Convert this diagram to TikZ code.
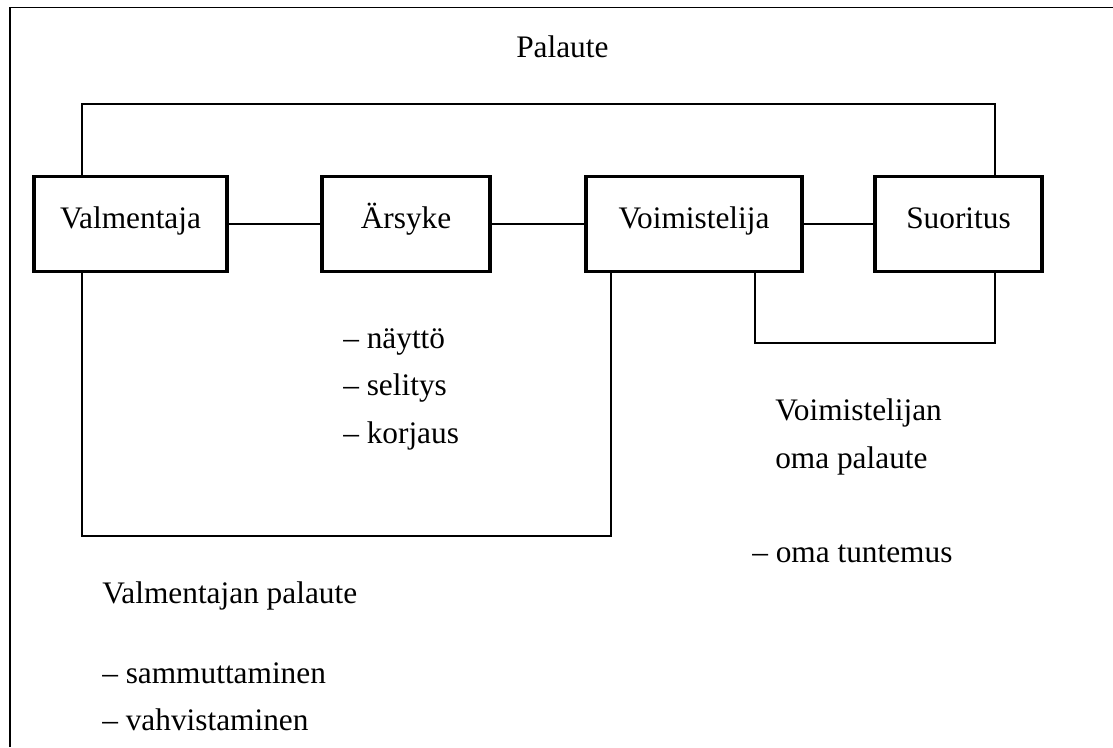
\documentclass[tikz,border=0pt]{standalone}
\usepackage{fontspec}
\setmainfont{Liberation Serif}
\begin{document}
\begin{tikzpicture}[x=0.75pt,y=-0.75pt,
  every node/.style={font=\fontsize{23.5}{28}\selectfont},
  boxnode/.style={draw, line width=2.4pt, inner sep=0pt, anchor=base,
    text height=51.5*0.75pt, text depth=43.5*0.75pt},
  lbl/.style={anchor=base west, inner sep=0pt},
  conn/.style={line width=1pt}]
\useasboundingbox (0,0) rectangle (1113,747);
% outer frame (top and left only)
\draw[conn] (10,747) -- (10,7.5) -- (1113,7.5);
% boxes
\node[boxnode, minimum width=193*0.75pt] (val) at (130.5,228) {Valmentaja};
\node[boxnode, minimum width=168*0.75pt] (ars) at (406,228) {Ärsyke};
\node[boxnode, minimum width=216*0.75pt] (voi) at (694,228) {Voimistelija};
\node[boxnode, minimum width=167*0.75pt] (suo) at (958.5,228) {Suoritus};
% straight connectors
\draw[conn] (val.east) -- (ars.west);
\draw[conn] (ars.east) -- (voi.west);
\draw[conn] (voi.east) -- (suo.west);
% loop corners
\coordinate (tl) at (82,104);
\coordinate (tr) at (995,104);
\coordinate (bl) at (82,536);
\coordinate (br) at (611,536);
\coordinate (sl) at (755,343);
\coordinate (sr) at (995,343);
\draw[conn] (val.north -| tl) -- (tl) -- (tr) -- (suo.north -| tr);
\draw[conn] (val.south -| bl) -- (bl) -- (br) -- (voi.south -| br);
\draw[conn] (voi.south -| sl) -- (sl) -- (sr) -- (suo.south -| sr);
% labels
\node[lbl] (pal) at (516,57) {Palaute};
\node[lbl] (n1) at (343,348) {– näyttö};
\node[lbl] (n2) at (343,395) {– selitys};
\node[lbl] (n3) at (343,443) {– korjaus};
\node[lbl] (v1) at (775,420) {Voimistelijan};
\node[lbl] (v2) at (775,468) {oma palaute};
\node[lbl] (v3) at (752,562) {– oma tuntemus};
\node[lbl] (m1) at (102,603) {Valmentajan palaute};
\node[lbl] (m2) at (102,683) {– sammuttaminen};
\node[lbl] (m3) at (102,730) {– vahvistaminen};
\end{tikzpicture}
\end{document}
